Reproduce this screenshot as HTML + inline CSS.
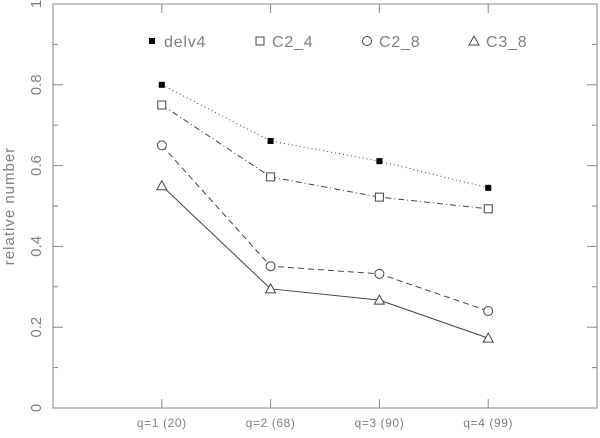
<!DOCTYPE html>
<html><head><meta charset="utf-8"><style>
body{margin:0;background:#fff}
svg text{font-family:"Liberation Sans",sans-serif;fill:#808080}
</style></head><body>
<svg id="chart" width="600" height="433" xmlns="http://www.w3.org/2000/svg"></svg>
<script>
const categories=["q=1 (20)","q=2 (68)","q=3 (90)","q=4 (99)"];
const delv4=[0.8,0.661,0.611,0.545];
const c2_4=[0.75,0.572,0.522,0.493];
const c2_8=[0.65,0.351,0.332,0.240];
const c3_8=[0.55,0.295,0.267,0.173];
const yTicks=["0","0.2","0.4","0.6","0.8","1"];
const yTickVals=[0,0.2,0.4,0.6,0.8,1];
const L=53,R=597,T=4,B=408;
const xs=i=>L+(i+1)*(R-L)/5;
const ys=v=>B-v*(B-T);
const svg=document.getElementById('chart');
const NS="http://www.w3.org/2000/svg";
function mk(tag,attrs,parent){const e=document.createElementNS(NS,tag);for(const k in attrs)e.setAttribute(k,attrs[k]);(parent||svg).appendChild(e);return e;}
const frame=mk('rect',{x:L,y:T,width:R-L,height:B-T,fill:'none',stroke:'#888','stroke-width':1});


for(let k=0;k<=10;k++){const v=k/10,len=k%2==0?10:5;
 const t1=mk('line',{x1:L,x2:L+len,y1:ys(v),y2:ys(v),stroke:'#888'});
 
 
 const t2=mk('line',{x1:R,x2:R-len,y1:ys(v),y2:ys(v),stroke:'#888'});
 
 }
yTickVals.forEach((v,i)=>{const t=mk('text',{x:0,y:0,'font-size':15,'text-anchor':'middle',transform:`translate(41,${ys(v)}) rotate(-90)`});
 t.textContent=yTicks[i];
 
 });
const yt=mk('text',{x:0,y:0,'font-size':15,'letter-spacing':1,'text-anchor':'middle',transform:'translate(14,206) rotate(-90)'});
yt.textContent='relative number';


categories.forEach((c,i)=>{
 const a=mk('line',{x1:xs(i),x2:xs(i),y1:B,y2:B-9,stroke:'#888'});
 
 
 const b=mk('line',{x1:xs(i),x2:xs(i),y1:T,y2:T+9,stroke:'#888'});
 
 
 const t=mk('text',{x:xs(i),y:427,'font-size':12,'letter-spacing':0.6,'text-anchor':'middle'});
 t.textContent=c;
 
 });
function marker(type,x,y,g){
 if(type=='fsq')return mk('rect',{x:x-3,y:y-3,width:6,height:6,fill:'#000'},g);
 if(type=='sq')return mk('rect',{x:x-4,y:y-4,width:8,height:8,fill:'#fff',stroke:'#444'},g);
 if(type=='ci')return mk('circle',{cx:x,cy:y,r:4.5,fill:'#fff',stroke:'#444'},g);
 return mk('polygon',{points:`${x-5},${y+4} ${x+5},${y+4} ${x},${y-5}`,fill:'#fff',stroke:'#444'},g);}
const series=[[delv4,'fsq','1,3','delv4'],[c2_4,'sq','6,3,1,3','c2-4'],[c2_8,'ci','6,4','c2-8'],[c3_8,'tr','','c3-8']];
series.forEach(([d,m,dash,n])=>{
 const g=mk('g',{});
 
 
 const p=mk('polyline',{points:d.map((v,i)=>xs(i)+','+ys(v)).join(' '),fill:'none',stroke:'#444','stroke-width':1,'stroke-dasharray':dash},g);
 
 
 d.forEach((v,i)=>{const e=marker(m,xs(i),ys(v),g);
  
  });});
const legend=[['fsq','delv4',152],['sq','C2_4',260],['ci','C2_8',367],['tr','C3_8',474]];
legend.forEach(([m,l,x])=>{
 const g=mk('g',{});
 
 
 marker(m,x,41,g);
 const t=mk('text',{x:x+12,y:47,'font-size':16,'letter-spacing':0.8},g);
 t.textContent=l;});
</script>
</body></html>
